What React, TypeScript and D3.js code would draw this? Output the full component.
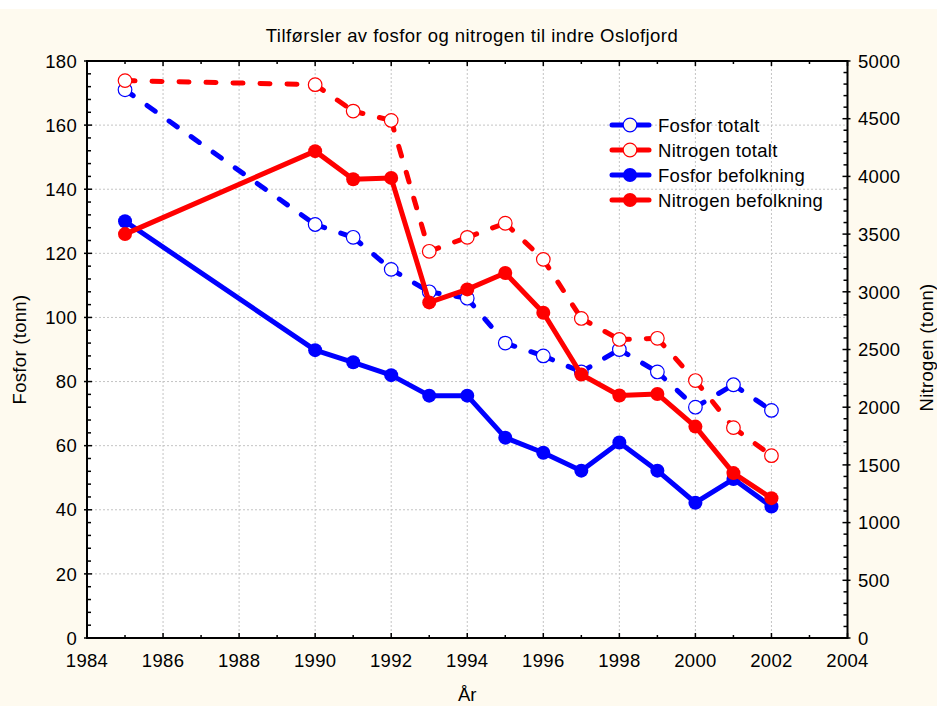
import React from "react";
import * as d3 from "d3";

const years = [1985, 1990, 1991, 1992, 1993, 1994, 1995, 1996, 1997, 1998, 1999, 2000, 2001, 2002];
const fosforTotalt = [171, 129, 125, 115, 108, 106, 92, 88, 83, 90, 83, 72, 79, 71];
const nitrogenTotalt = [4830, 4795, 4566, 4485, 3351, 3472, 3594, 3281, 2769, 2587, 2597, 2231, 1823, 1580];
const fosforBefolkning = [130, 89.8, 86, 82, 75.6, 75.6, 62.5, 57.8, 52.2, 61, 52.2, 42.2, 49.6, 41];
const nitrogenBefolkning = [3500, 4219, 3975, 3987, 2908, 3021, 3163, 2818, 2283, 2101, 2115, 1832, 1429, 1212];

const xTicks = [1984, 1986, 1988, 1990, 1992, 1994, 1996, 1998, 2000, 2002, 2004];
const leftTicks = [0, 20, 40, 60, 80, 100, 120, 140, 160, 180];
const rightTicks = [0, 500, 1000, 1500, 2000, 2500, 3000, 3500, 4000, 4500, 5000];

const title = "Tilførsler av fosfor og nitrogen til indre Oslofjord";
const xLabel = "År";
const leftLabel = "Fosfor (tonn)";
const rightLabel = "Nitrogen (tonn)";

type Series = { name: string; values: number[]; axis: "L" | "R"; color: string; dashed: boolean; open: boolean };
const series: Series[] = [
  { name: "Fosfor totalt", values: fosforTotalt, axis: "L", color: "#0000ff", dashed: true, open: true },
  { name: "Nitrogen totalt", values: nitrogenTotalt, axis: "R", color: "#ff0000", dashed: true, open: true },
  { name: "Fosfor befolkning", values: fosforBefolkning, axis: "L", color: "#0000ff", dashed: false, open: false },
  { name: "Nitrogen befolkning", values: nitrogenBefolkning, axis: "R", color: "#ff0000", dashed: false, open: false },
];

const W = 937, H = 706;
const L = 87, R = 847.5, T = 61, B = 638;
const BG = "#fefaef";
const FONT = "'Liberation Sans', Arial, sans-serif";
const FS = 18.5;
const LS = 0.3;

export default function App() {
  const x = d3.scaleLinear().domain([1984, 2004]).range([L, R]);
  const yL = d3.scaleLinear().domain([0, 180]).range([B, T]);
  const yR = d3.scaleLinear().domain([0, 5000]).range([B, T]);

  const minorX = d3.range(1984, 2004.01, 1);
  const minorL = d3.range(0, 180.01, 4);
  const minorR = d3.range(0, 5000.01, 100);

  const line = d3.line<[number, number]>().x((d) => d[0]).y((d) => d[1]);

  const pts = (s: Series): [number, number][] =>
    s.values.map((v, i) => [x(years[i]), s.axis === "L" ? yL(v) : yR(v)]);

  return (
    <svg width={W} height={H} style={{ position: "absolute", left: 0, top: 0 }} fontFamily={FONT}>
      <rect x={0} y={0} width={W} height={H} fill={BG} />
      <rect x={0} y={0} width={W} height={9} fill="#ffffff" />
      <rect x={L} y={T} width={R - L} height={B - T} fill="#ffffff" />

      {/* grid */}
      {xTicks.slice(1, -1).map((t) => (
        <line key={"gx" + t} x1={x(t)} x2={x(t)} y1={T} y2={B} stroke="#c4c4c4" strokeWidth={1} strokeDasharray="2 2" />
      ))}
      {leftTicks.slice(1, -1).map((t) => (
        <line key={"gy" + t} x1={L} x2={R} y1={yL(t)} y2={yL(t)} stroke="#c4c4c4" strokeWidth={1} strokeDasharray="2 2" />
      ))}

      {/* ticks */}
      {minorX.map((t) => {
        const major = t % 2 === 0;
        const len = major ? 5 : 3;
        return (
          <g key={"tx" + t}>
            <line x1={x(t)} x2={x(t)} y1={B} y2={B - len} stroke="#000" strokeWidth={1.5} />
            <line x1={x(t)} x2={x(t)} y1={T} y2={T + len} stroke="#000" strokeWidth={1.5} />
          </g>
        );
      })}
      {minorL.map((t) => {
        const major = t % 20 === 0;
        return <line key={"tl" + t} x1={major ? L - 3 : L} x2={L + (major ? 5 : 4)} y1={yL(t)} y2={yL(t)} stroke="#000" strokeWidth={1.5} />;
      })}
      {minorR.map((t) => {
        const major = t % 500 === 0;
        return <line key={"tr" + t} x1={major ? R + 3 : R} x2={R - (major ? 5 : 4)} y1={yR(t)} y2={yR(t)} stroke="#000" strokeWidth={1.5} />;
      })}

      {/* frame */}
      <rect x={L} y={T} width={R - L} height={B - T} fill="none" stroke="#000" strokeWidth={2} />

      {/* tick labels */}
      {leftTicks.map((t) => (
        <text key={"ll" + t} x={77} y={yL(t) + 6.7} textAnchor="end" fontSize={FS} letterSpacing={LS} fill="#000">{t}</text>
      ))}
      {rightTicks.map((t) => (
        <text key={"rl" + t} x={858} y={yR(t) + 6.7} textAnchor="start" fontSize={FS} letterSpacing={LS} fill="#000">{t}</text>
      ))}
      {xTicks.map((t) => (
        <text key={"xl" + t} x={x(t)} y={667} textAnchor="middle" fontSize={FS} letterSpacing={LS} fill="#000">{t}</text>
      ))}

      {/* labels */}
      <text x={472} y={42} textAnchor="middle" fontSize={FS} letterSpacing={0.45} fill="#000">{title}</text>
      <text x={(L + R) / 2} y={701} textAnchor="middle" fontSize={FS} fill="#000">{xLabel}</text>
      <text transform={`translate(26,${(T + B) / 2}) rotate(-90)`} textAnchor="middle" fontSize={FS} letterSpacing={LS} fill="#000">{leftLabel}</text>
      <text transform={`translate(933,${(T + B) / 2 - 2}) rotate(-90)`} textAnchor="middle" fontSize={FS} letterSpacing={LS} fill="#000">{rightLabel}</text>

      {/* series */}
      {series.map((s) => {
        const p = pts(s);
        return (
          <g key={s.name}>
            {s.dashed
              ? p.slice(1).map((q, i) => (
                  <path key={i} d={line([p[i], q]) || ""} stroke={s.color} strokeWidth={5} fill="none"
                    strokeDasharray="10 17" strokeLinecap="round" />
                ))
              : <path d={line(p) || ""} stroke={s.color} strokeWidth={5} fill="none" strokeLinejoin="round" strokeLinecap="round" />}
            {p.map((q, i) =>
              s.open
                ? <circle key={"m" + i} cx={q[0]} cy={q[1]} r={6.8} fill="#ffffff" stroke={s.color} strokeWidth={1.2} />
                : <circle key={"m" + i} cx={q[0]} cy={q[1]} r={7} fill={s.color} />
            )}
          </g>
        );
      })}

      {/* legend */}
      {series.map((s, i) => {
        const ly = 125 + i * 25;
        return (
          <g key={"lg" + s.name}>
            <line x1={612} x2={649} y1={ly} y2={ly} stroke={s.color} strokeWidth={5} strokeLinecap="round" />
            {s.open
              ? <circle cx={630} cy={ly} r={6.8} fill={BG} stroke={s.color} strokeWidth={1.2} />
              : <circle cx={630} cy={ly} r={7} fill={s.color} />}
            <text x={658} y={ly + 6.5} fontSize={FS} letterSpacing={LS} fill="#000">{s.name}</text>
          </g>
        );
      })}
    </svg>
  );
}
